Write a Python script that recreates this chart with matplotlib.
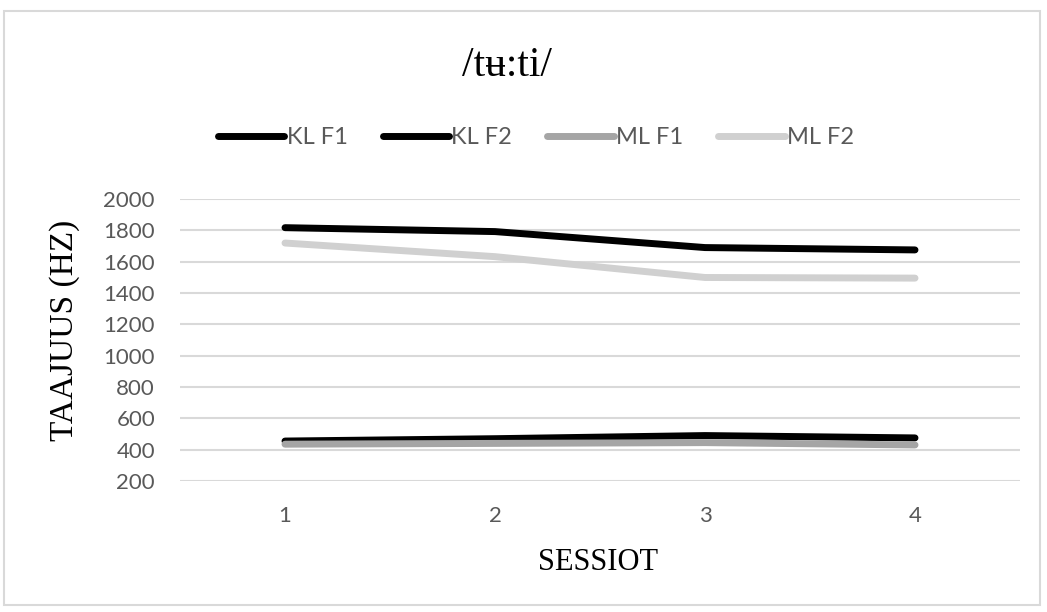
import matplotlib.pyplot as plt

sessions = [1, 2, 3, 4]
kl_f1 = [455, 470, 490, 475]
kl_f2 = [1817, 1792, 1690, 1675]
ml_f1 = [435, 440, 445, 430]
ml_f2 = [1719, 1632, 1499, 1495]
series_names = ['KL F1', 'KL F2', 'ML F1', 'ML F2']
colors = ['#000000', '#000000', '#a5a5a5', '#d0d0d0']
y_ticks = list(range(200, 2001, 200))

serif = ['Liberation Serif', 'DejaVu Serif']
sans = ['Lato', 'DejaVu Sans']
txt_grey = '#595959'

W, H = 1047, 612
fig = plt.figure(figsize=(W / 100, H / 100), dpi=100)
# outer chart frame
fig.patches.append(plt.Rectangle((4 / W, 1 - 605 / H), 1036 / W, 594 / H,
                                 transform=fig.transFigure, fill=False,
                                 edgecolor='#d9d9d9', lw=1.5))

ax = fig.add_axes([180 / W, 1 - 481 / H, 840 / W, 282 / H])
for vals, name, c in zip([kl_f1, kl_f2, ml_f1, ml_f2], series_names, colors):
    ax.plot(sessions, vals, color=c, lw=5, solid_capstyle='round', label=name, zorder=3)

ax.set_xlim(0.5, 4.5)
ax.set_ylim(200, 2000)
ax.set_yticks(y_ticks)
ax.set_xticks(sessions)
ax.grid(axis='y', color='#d9d9d9', lw=1.5, zorder=0)
for s in ax.spines.values():
    s.set_visible(False)
ax.tick_params(axis='y', length=0, labelsize=16, labelcolor=txt_grey, pad=18)
ax.tick_params(axis='x', length=0, labelsize=16, labelcolor=txt_grey, pad=18)
for lbl in ax.get_xticklabels() + ax.get_yticklabels():
    lbl.set_fontfamily(sans)

fig.text(65 / W, 1 - 330 / H, 'TAAJUUS (HZ)', family=serif, fontsize=24,
         rotation=90, ha='center', va='center')
fig.text(598 / W, 1 - 563 / H, 'SESSIOT', family=serif, fontsize=22,
         ha='center', va='center')
fig.text(507 / W, 1 - 66 / H, '/tʉ:ti/', family=serif, fontsize=30,
         ha='center', va='center')

leg = fig.legend(loc='center', bbox_to_anchor=(536 / W, 1 - 138 / H), ncol=4,
                 frameon=False, handlelength=2.8, handletextpad=0.1, columnspacing=1.5,
                 prop={'family': sans, 'size': 17})
for t in leg.get_texts():
    t.set_color(txt_grey)

fig.savefig('out.png', dpi=100, facecolor='white')
